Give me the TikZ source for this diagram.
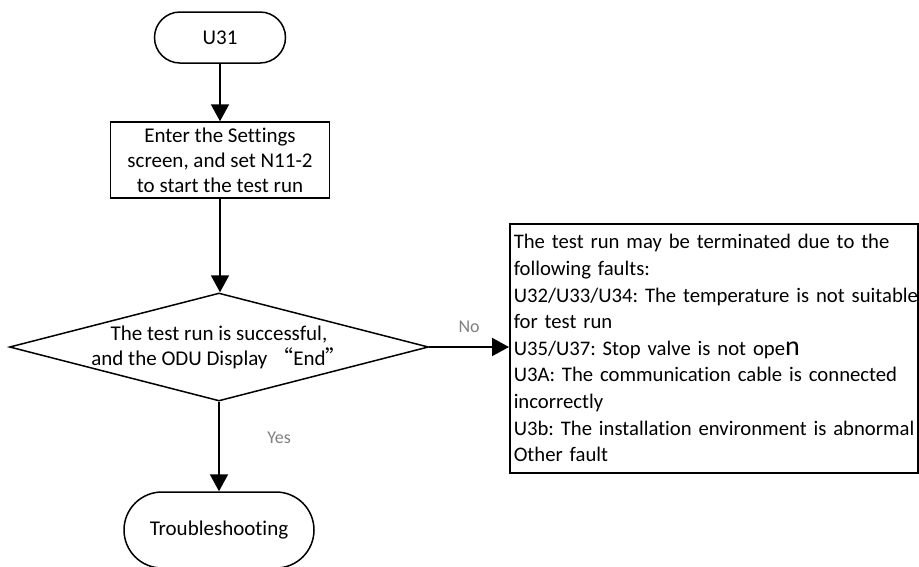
\documentclass[tikz,border=0pt]{standalone}
\usepackage{fontspec}
\setmainfont{Carlito}[Ligatures=NoCommon]
\newfontfamily\cjk{Noto Sans CJK SC}
\usetikzlibrary{shapes.geometric,arrows.meta,positioning}
\frenchspacing

\begin{document}
\begin{tikzpicture}[
    x=1pt, y=-1pt,
    font=\fontsize{21}{25}\selectfont,
    terminal/.style={
        rectangle, draw=black, line width=1.5pt, align=center, inner sep=0pt
    },
    process/.style={
        rectangle, draw=black, line width=1.5pt, minimum width=219pt,
        minimum height=76pt, align=center, inner sep=0pt
    },
    decision/.style={
        diamond, draw=black, line width=1.5pt, minimum width=419pt,
        minimum height=108pt, inner sep=0pt
    },
    faultBox/.style={
        rectangle, draw=black, line width=1.5pt, anchor=north west, align=left,
        text width=400pt, inner xsep=4pt, inner ysep=10pt,
        font=\fontsize{20.7}{26.6}\selectfont
    },
    flow/.style={
        -{Triangle[length=17pt, width=18pt]}, line width=2pt
    },
    branchLabel/.style={
        text=black!50, font=\fontsize{18}{20}\selectfont
    }
]
\useasboundingbox (0,0) rectangle (919,566);
\clip (0,0) rectangle (919,566);

% Terminals and steps
\node[terminal, minimum width=131pt, minimum height=51pt, rounded corners=25.5pt] (start) at (220, 37.5) {U31};

\node[process] (settings) at (220, 160) {
    Enter the Settings\\
    screen, and set N11-2\\
    to start the test run
};

\node[decision] (check) at (219, 347) {};
\node[align=center] (checkText) at (check.center) {
    The test run is successful,\\
    and the ODU Display {\cjk “}End{\cjk ”}
};

\node[terminal, minimum width=190pt, minimum height=76pt, rounded corners=38pt] (trouble) at (219, 530) {Troubleshooting};

% Fault list (one \mbox per printed line)
\node[faultBox, minimum height=249pt] (faults) at (509, 223) {
    \mbox{The test run may be terminated due to the}\\
    \mbox{following faults:}\\
    \mbox{U32/U33/U34: The temperature is not suitable}\\
    \mbox{for test run}\\
    \mbox{U35/U37: Stop valve is not ope{\fontsize{28}{26.6}\selectfont n}}\\
    \mbox{U3A: The communication cable is connected}\\
    \mbox{incorrectly}\\
    \mbox{U3b: The installation environment is abnormal}\\
    \mbox{Other fault}
};

% Connectors
\draw[flow] (start) -- (settings);
\draw[flow] (settings) -- (check.north -| settings.south);
\draw[flow] (check.south) -- node[branchLabel, right=44pt, pos=0.4] {Yes} (trouble.north);
\draw[flow] (check.east) -- node[branchLabel, above=10pt] {No} (faults.west |- check.east);

\end{tikzpicture}
\end{document}
